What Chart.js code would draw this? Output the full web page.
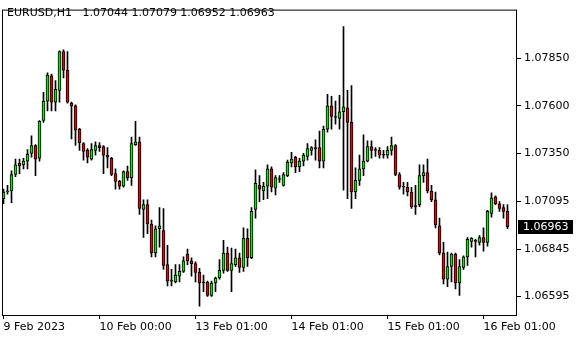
<!DOCTYPE html>
<html>
<head>
<meta charset="utf-8">
<script src="https://cdn.jsdelivr.net/npm/chart.js@4"></script>
<style>
  html, body { margin: 0; padding: 0; background: #fff; }
  canvas { display: block; }
</style>
</head>
<body>
<canvas id="chart" width="580" height="340"></canvas>
<script>
// EURUSD H1 candles, 9 Feb 2023 -> 16 Feb 2023
const symbol = 'EURUSD,H1';

const openPrices = [
  1.07110,1.07146,1.07151,1.07238,1.07299,1.07289,1.07309,1.07350,1.07391,1.07324,
  1.07523,1.07625,1.07758,1.07620,1.07682,1.07886,1.07789,1.07615,1.07600,1.07477,
  1.07401,1.07365,1.07319,1.07365,1.07391,1.07385,1.07340,1.07324,1.07243,1.07202,
  1.07176,1.07253,1.07222,1.07396,1.07411,1.07054,1.07079,1.06977,1.06824,1.06952,
  1.06942,1.06763,1.06681,1.06671,1.06702,1.06727,1.06819,1.06783,1.06768,1.06722,
  1.06671,1.06671,1.06600,1.06666,1.06692,1.06732,1.06824,1.06732,1.06763,1.06799,
  1.06748,1.06901,1.06799,1.07054,1.07181,1.07151,1.07176,1.07268,1.07166,1.07212,
  1.07181,1.07232,1.07299,1.07329,1.07278,1.07309,1.07334,1.07365,1.07380,1.07380,
  1.07309,1.07477,1.07600,1.07544,1.07534,1.07569,1.07590,1.07513,1.07146,1.07207,
  1.07268,1.07309,1.07385,1.07370,1.07365,1.07345,1.07340,1.07365,1.07391,1.07238,
  1.07176,1.07171,1.07146,1.07074,1.07079,1.07232,1.07248,1.07151,1.07105,1.06967,
  1.06824,1.06686,1.06753,1.06819,1.06666,1.06748,1.06804,1.06885,1.06891,1.06880,
  1.06906,1.06880,1.07033,1.07120,1.07084,1.07064,1.07044
];
const highPrices = [
  1.07161,1.07181,1.07258,1.07319,1.07319,1.07324,1.07370,1.07442,1.07396,1.07523,
  1.07671,1.07774,1.07768,1.07733,1.07891,1.07896,1.07886,1.07620,1.07605,1.07482,
  1.07406,1.07375,1.07401,1.07411,1.07406,1.07391,1.07380,1.07329,1.07268,1.07207,
  1.07258,1.07283,1.07436,1.07518,1.07436,1.07105,1.07105,1.06998,1.06967,1.07064,
  1.07059,1.06865,1.06738,1.06763,1.06763,1.06804,1.06845,1.06799,1.06778,1.06743,
  1.06707,1.06676,1.06676,1.06697,1.06789,1.06891,1.06855,1.06850,1.06845,1.06824,
  1.06957,1.06952,1.07064,1.07263,1.07232,1.07197,1.07289,1.07278,1.07232,1.07232,
  1.07248,1.07314,1.07355,1.07334,1.07324,1.07350,1.07401,1.07385,1.07421,1.07467,
  1.07493,1.07661,1.07651,1.07625,1.07656,1.08018,1.07682,1.07707,1.07273,1.07340,
  1.07447,1.07416,1.07416,1.07380,1.07380,1.07365,1.07385,1.07436,1.07396,1.07248,
  1.07197,1.07197,1.07171,1.07181,1.07289,1.07289,1.07319,1.07181,1.07146,1.07008,
  1.06880,1.06829,1.06824,1.06824,1.06789,1.06809,1.06906,1.06906,1.06896,1.06916,
  1.06957,1.07049,1.07141,1.07125,1.07095,1.07079,1.07079
];
const lowPrices = [
  1.07084,1.07135,1.07090,1.07227,1.07243,1.07268,1.07268,1.07329,1.07232,1.07309,
  1.07513,1.07574,1.07574,1.07574,1.07620,1.07748,1.07615,1.07426,1.07391,1.07365,
  1.07314,1.07299,1.07314,1.07340,1.07360,1.07243,1.07273,1.07232,1.07161,1.07161,
  1.07171,1.07207,1.07181,1.07391,1.07028,1.06906,1.06926,1.06804,1.06804,1.06855,
  1.06738,1.06651,1.06651,1.06666,1.06671,1.06722,1.06763,1.06702,1.06671,1.06544,
  1.06620,1.06595,1.06595,1.06620,1.06686,1.06717,1.06727,1.06620,1.06753,1.06722,
  1.06727,1.06753,1.06794,1.07008,1.07095,1.07105,1.07110,1.07146,1.07130,1.07197,
  1.07176,1.07227,1.07278,1.07248,1.07253,1.07283,1.07314,1.07340,1.07314,1.07273,
  1.07273,1.07462,1.07477,1.07503,1.07477,1.07156,1.07110,1.07059,1.07110,1.07181,
  1.07232,1.07304,1.07324,1.07334,1.07324,1.07324,1.07324,1.07340,1.07232,1.07161,
  1.07135,1.07125,1.07059,1.07028,1.07069,1.07197,1.07141,1.07095,1.06957,1.06814,
  1.06661,1.06646,1.06671,1.06635,1.06600,1.06738,1.06758,1.06855,1.06804,1.06865,
  1.06834,1.06860,1.07013,1.07079,1.07044,1.07008,1.06952
];
const closePrices = [
  1.07146,1.07151,1.07238,1.07289,1.07283,1.07309,1.07345,1.07391,1.07319,1.07518,
  1.07625,1.07763,1.07620,1.07687,1.07886,1.07789,1.07620,1.07600,1.07472,1.07406,
  1.07360,1.07329,1.07370,1.07391,1.07380,1.07340,1.07329,1.07238,1.07202,1.07176,
  1.07253,1.07222,1.07401,1.07411,1.07059,1.07079,1.06977,1.06824,1.06952,1.06967,
  1.06758,1.06676,1.06676,1.06707,1.06727,1.06783,1.06783,1.06768,1.06722,1.06666,
  1.06666,1.06600,1.06666,1.06692,1.06732,1.06824,1.06732,1.06768,1.06799,1.06748,
  1.06901,1.06799,1.07044,1.07192,1.07161,1.07176,1.07268,1.07171,1.07222,1.07217,
  1.07238,1.07304,1.07319,1.07278,1.07309,1.07340,1.07375,1.07380,1.07375,1.07309,
  1.07477,1.07600,1.07544,1.07539,1.07569,1.07595,1.07513,1.07146,1.07207,1.07268,
  1.07309,1.07385,1.07365,1.07365,1.07340,1.07340,1.07365,1.07391,1.07238,1.07171,
  1.07171,1.07146,1.07069,1.07069,1.07232,1.07248,1.07151,1.07105,1.06972,1.06824,
  1.06686,1.06753,1.06819,1.06666,1.06753,1.06804,1.06896,1.06901,1.06885,1.06906,
  1.06880,1.07044,1.07115,1.07084,1.07059,1.07044,1.06963
];

// time axis labels (bar index -> label)
const xTickIndex = [0, 24, 48, 72, 96, 120];
const xTickLabels = ['9 Feb 2023', '10 Feb 00:00', '13 Feb 01:00', '14 Feb 01:00', '15 Feb 01:00', '16 Feb 01:00'];
// price axis labels
const yTickValues = [1.06595, 1.06845, 1.07095, 1.07350, 1.07600, 1.07850];

const upColor = '#00f000';
const downColor = '#f00000';
const labelFont = { family: '"DejaVu Sans", Verdana, sans-serif', size: 11 };

// candle bodies and wicks as floating bars
const bodies = openPrices.map((o, i) => ({ x: i, y: [o, closePrices[i]] }));
const wicks = lowPrices.map((l, i) => ({ x: i, y: [l, highPrices[i]] }));
const bodyColors = openPrices.map((o, i) => closePrices[i] >= o ? upColor : downColor);

const last = closePrices.length - 1;

// frame, header text and last price marker
const terminalPlugin = {
  id: 'terminal',
  afterDraw(chart) {
    const ctx = chart.ctx;
    const a = chart.chartArea;
    ctx.save();
    ctx.strokeStyle = '#000';
    ctx.lineWidth = 1;
    ctx.strokeRect(a.left + 0.5, a.top + 0.5, a.right - a.left, a.bottom - a.top);

    ctx.font = labelFont.size + 'px ' + labelFont.family;
    ctx.fillStyle = '#000';
    ctx.textBaseline = 'middle';
    ctx.textAlign = 'left';
    const head = symbol + '   ' + [openPrices[last], highPrices[last], lowPrices[last], closePrices[last]]
      .map(v => v.toFixed(5)).join(' ');
    ctx.fillText(head, 7, 13);

    const y = Math.round(chart.scales.y.getPixelForValue(closePrices[last]));
    ctx.fillStyle = '#000';
    ctx.fillRect(a.right + 2, y - 7, 55, 14);
    ctx.fillStyle = '#fff';
    ctx.fillText(closePrices[last].toFixed(5), a.right + 7, y + 0.5);
    ctx.restore();
  }
};

new Chart(document.getElementById('chart'), {
  type: 'bar',
  data: {
    datasets: [
      {
        data: bodies,
        backgroundColor: bodyColors,
        borderColor: '#000',
        borderWidth: 1,
        borderSkipped: false,
        barThickness: 3,
        grouped: false
      },
      {
        data: wicks,
        backgroundColor: '#000',
        borderWidth: 0,
        barThickness: 1,
        grouped: false
      }
    ]
  },
  options: {
    responsive: false,
    animation: false,
    layout: { padding: { left: 2, top: 2, right: 0, bottom: 0 } },
    plugins: { legend: { display: false }, tooltip: { enabled: false } },
    scales: {
      x: {
        type: 'linear',
        offset: false,
        min: -0.375,
        max: 128.125,
        afterBuildTicks: scale => { scale.ticks = xTickIndex.map(v => ({ value: v })); },
        afterFit: scale => { scale.height = 25; },
        grid: { drawOnChartArea: false, offset: false, color: '#000', tickLength: 4 },
        border: { display: false },
        ticks: {
          autoSkip: false,
          maxRotation: 0,
          align: 'start',
          padding: 2,
          color: '#000',
          font: labelFont,
          callback: v => xTickLabels[xTickIndex.indexOf(v)]
        }
      },
      y: {
        position: 'right',
        min: 1.06497,
        max: 1.08108,
        afterBuildTicks: scale => { scale.ticks = yTickValues.map(v => ({ value: v })); },
        afterFit: scale => { scale.width = 64; },
        grid: { drawOnChartArea: false, color: '#000', tickLength: 5 },
        border: { display: false },
        ticks: {
          padding: 3,
          color: '#000',
          font: labelFont,
          callback: v => v.toFixed(5)
        }
      }
    }
  },
  plugins: [terminalPlugin]
});
</script>
</body>
</html>
